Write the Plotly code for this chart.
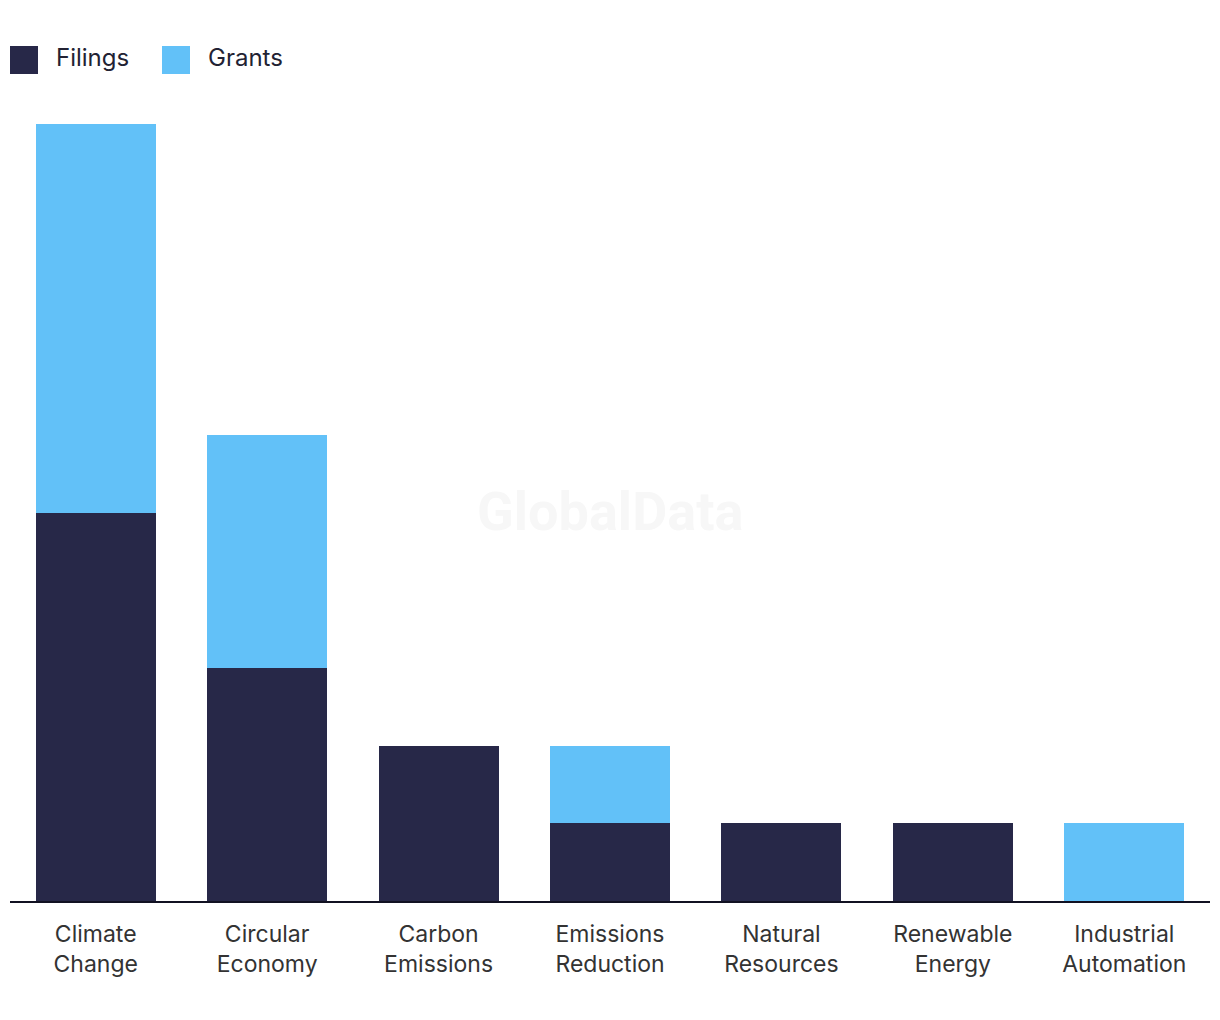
import plotly.graph_objects as go

categories = ["Climate<br>Change", "Circular<br>Economy", "Carbon<br>Emissions", "Emissions<br>Reduction",
              "Natural<br>Resources", "Renewable<br>Energy", "Industrial<br>Automation"]
filings = [5, 3, 2, 1, 1, 1, 0]
grants = [5, 3, 0, 1, 0, 0, 1]

navy = "#272848"
blue = "#62C1F8"
font_family = "Inter, Lato, 'Open Sans', sans-serif"

fig = go.Figure()
fig.add_trace(go.Bar(x=categories, y=filings, name="Filings", marker=dict(color=navy, line=dict(width=0))))
fig.add_trace(go.Bar(x=categories, y=grants, name="Grants", marker=dict(color=blue, line=dict(width=0))))

fig.update_layout(
    barmode="stack",
    bargap=0.3,
    width=1220, height=1020,
    margin=dict(l=2, r=18, t=116, b=127),
    paper_bgcolor="white", plot_bgcolor="white",
    showlegend=False,
    font=dict(family=font_family, size=23, color="#333333"),
    xaxis=dict(showgrid=False, showline=True, linecolor="#111122", linewidth=2,
               ticks="", tickfont=dict(size=23, color="#333333"), ticklabelstandoff=11),
    yaxis=dict(range=[0, 10], showgrid=False, showticklabels=False, zeroline=False, showline=False),
)

# Watermark
fig.add_annotation(text="<b>GlobalData</b>", xref="paper", yref="paper", x=0.5, y=(901 - 511) / 777,
                   showarrow=False, font=dict(size=54, color="#f7f7f7", family="Roboto, Inter, sans-serif"))

# Manual legend
legend_items = [("Filings", navy, 10, 54), ("Grants", blue, 162, 206)]
for name, col, x0, tx in legend_items:
    fig.add_shape(type="rect", xref="paper", yref="paper",
                  x0=(x0 - 10) / 1200, x1=(x0 + 28 - 10) / 1200,
                  y0=(901 - 74) / 777, y1=(901 - 46) / 777,
                  fillcolor=col, line=dict(width=0))
    fig.add_annotation(text=name, xref="paper", yref="paper", x=(tx - 10) / 1200, y=(901 - 58) / 777,
                       xanchor="left", yanchor="middle", showarrow=False,
                       font=dict(size=24, color="#222233"))

fig.write_html("out.html")
